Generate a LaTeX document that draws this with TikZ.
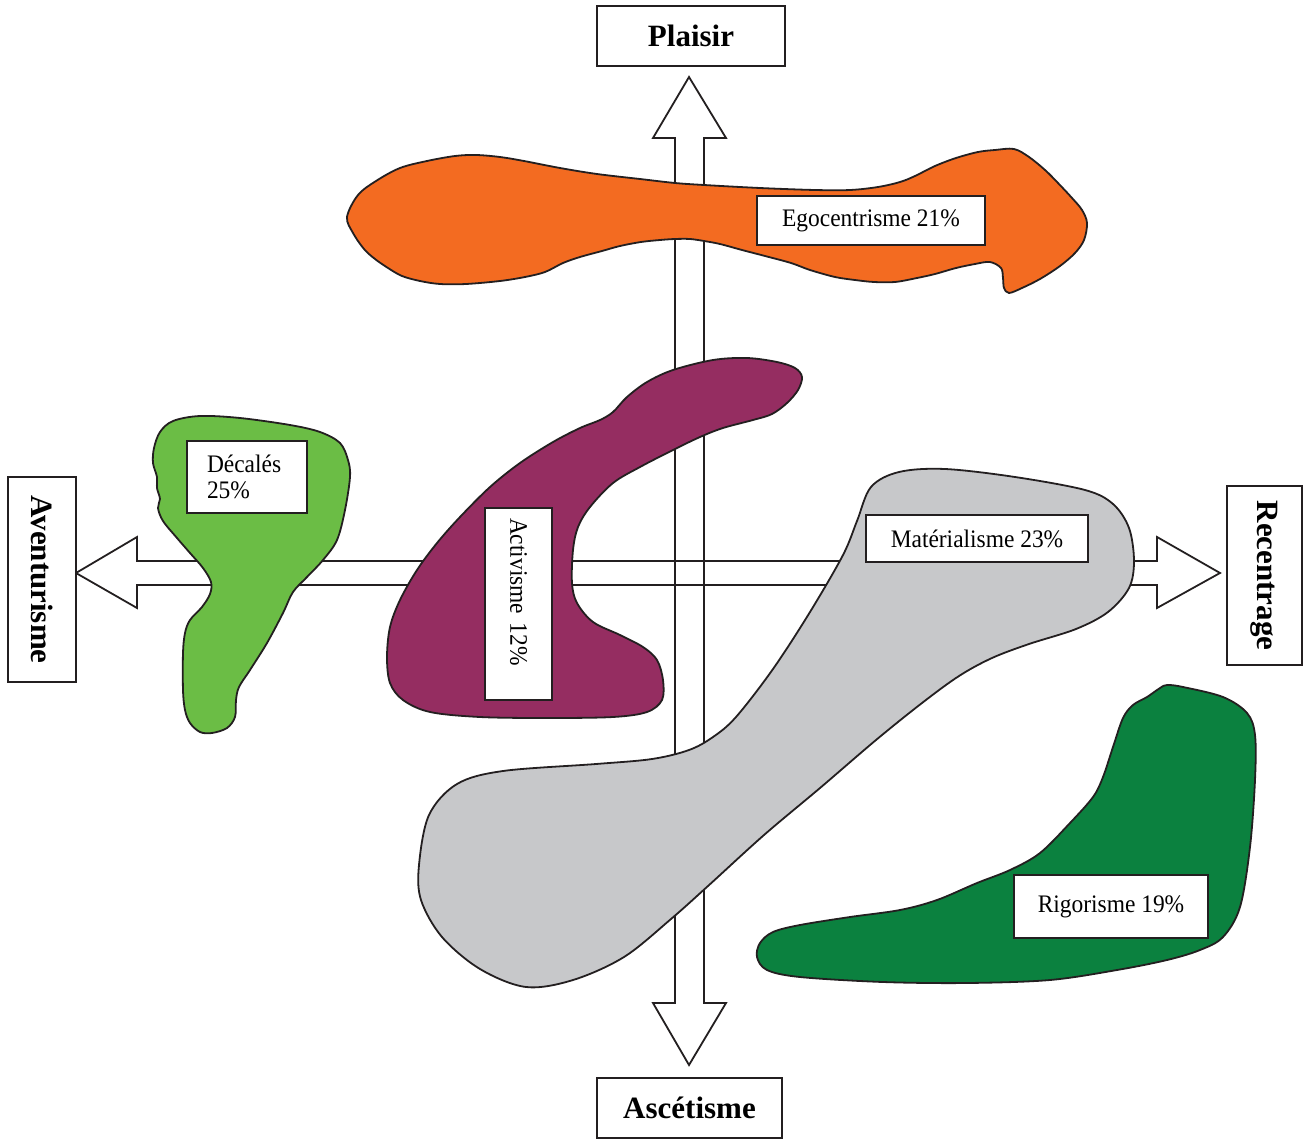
\documentclass[tikz,border=0pt]{standalone}
\usepackage{fontspec}
\setmainfont{Liberation Serif}
\newfontfamily\tagfont[FakeStretch=0.93]{Liberation Serif}
\definecolor{egoorange}{HTML}{F36B21}
\definecolor{decgreen}{HTML}{6BBD45}
\definecolor{actpurple}{HTML}{952D61}
\definecolor{matgray}{HTML}{C7C8CA}
\definecolor{riggreen}{HTML}{0B813F}
\definecolor{ink}{HTML}{231F20}
\begin{document}
\begin{tikzpicture}[x=1pt,y=-1pt,
  outline/.style={draw=ink, line width=1.8pt, line join=round},
  axisbox/.style={draw=ink, line width=1.8pt, fill=white, inner sep=0pt,
    font=\fontsize{31}{37}\selectfont\bfseries},
  tagbox/.style={draw=ink, line width=1.8pt, fill=white, inner sep=0pt,
    font=\tagfont\fontsize{25.2}{27}\selectfont},
]
\useasboundingbox (0,0) rectangle (1303,1140);

% double block arrows of the two axes
\coordinate (vtop) at (689,77);
\coordinate (vbot) at (689,1065);
\coordinate (hleft) at (76,573);
\coordinate (hright) at (1220,573);
\def\varrow{(vtop) -- (726,138) -- (704,138) -- (704,1003) -- (726,1003) -- (vbot)
  -- (653,1003) -- (675,1003) -- (675,138) -- (653,138) -- cycle}
\def\harrow{(hleft) -- (137,537) -- (137,561) -- (1157,561) -- (1157,537) -- (hright)
  -- (1157,608) -- (1157,585) -- (137,585) -- (137,608) -- cycle}
\fill[white] \varrow;
\fill[white] \harrow;
\draw[ink, line width=1.8pt, line join=miter] \varrow;
\draw[ink, line width=1.8pt, line join=miter] \harrow;

% Egocentrisme
\filldraw[outline, fill=egoorange] plot[smooth cycle, tension=0.55] coordinates {
 (347,217) (358,195) (376,181) (400,168) (427,161) (455,156) (476,155) (500,157)
 (524,161) (560,168) (597,174) (640,179) (675,183) (704,185) (760,188) (815,190)
 (850,190) (878,187) (900,182) (915,176) (935,166) (956,158) (978,152) (995,150)
 (1014,149) (1029,157) (1045,170) (1058,183) (1072,198) (1082,210) (1087,223)
 (1084,240) (1075,253) (1060,266) (1040,279) (1022,288) (1009,293) (1004,288)
 (1003,278) (1001,268) (990,262) (975,264) (956,268) (935,274) (917,278) (895,282)
 (874,282) (855,280) (835,277) (810,270) (791,263) (765,256) (742,250) (720,244)
 (704,241) (690,239) (675,239) (660,240) (641,242) (620,246) (602,251) (580,257)
 (563,263) (545,272) (525,277) (500,281) (466,284) (440,284) (420,281) (402,276)
 (388,268) (375,259) (364,249) (353,233)};

% Decales
\filldraw[outline, fill=decgreen] plot[smooth cycle, tension=0.55] coordinates {
 (154,448) (160,432) (173,421) (200,416) (240,418) (290,425) (320,432) (340,443)
 (348,460) (350,477) (345,510) (337,540) (323,560) (307,577) (293,592) (283,613)
 (267,643) (250,670) (239,687) (236,700) (235,717) (227,728) (212,733) (200,732)
 (190,723) (185,710) (183,690) (183,653) (185,633) (190,620) (202,607) (210,594)
 (211,582) (203,568) (190,553) (177,538) (163,521) (158,508) (160,499) (157,488)
 (157,477) (153,463)};

% Activisme
\filldraw[outline, fill=actpurple] plot[smooth cycle, tension=0.55] coordinates {
 (387,657) (390,683) (403,700) (430,712) (480,717) (547,718) (613,717) (647,712)
 (662,700) (663,680) (657,660) (643,647) (620,635) (593,622) (577,603) (572,583)
 (573,550) (578,527) (590,507) (613,483) (640,467) (673,450) (700,437) (723,428)
 (753,420) (772,414) (787,403) (798,390) (802,377) (795,368) (777,362) (747,358)
 (713,360) (673,370) (647,382) (627,397) (613,412) (600,420) (580,428) (553,442)
 (520,463) (490,487) (460,517) (437,543) (417,570) (400,600) (390,627)};

% Materialisme
\filldraw[outline, fill=matgray] plot[smooth cycle, tension=0.55] coordinates {
 (871,487) (899,472) (945,469) (1015,477) (1085,490) (1113,504) (1129,528)
 (1134,561) (1129,588) (1108,612) (1076,629) (1029,644) (992,658) (959,676)
 (922,703) (876,740) (820,788) (764,835) (708,886) (671,919) (624,957) (573,980)
 (526,987) (480,969) (442,937) (421,900) (419,865) (429,815) (457,784) (503,771)
 (596,764) (652,759) (689,750) (713,737) (736,717) (773,669) (810,612) (843,555)
 (857,521)};

% Rigorisme
\filldraw[outline, fill=riggreen] plot[smooth cycle, tension=0.55] coordinates {
 (1167,685) (1183,687) (1223,697) (1247,713) (1255,735) (1255,780) (1250,847)
 (1240,907) (1223,937) (1200,950) (1167,960) (1117,970) (1050,980) (967,983)
 (883,982) (800,977) (767,970) (757,957) (760,943) (773,932) (800,925) (850,917)
 (900,910) (937,900) (977,883) (1010,870) (1040,853) (1070,823) (1093,797)
 (1103,777) (1113,747) (1123,718) (1133,705) (1147,697) (1160,688)};

% axis labels
\node[axisbox, minimum width=188, minimum height=60] (plaisir) at (691,36) {Plaisir};
\node[axisbox, minimum width=185, minimum height=60] (ascetisme) at (689.5,1108) {Ascétisme};
\node[axisbox, rotate=-90, minimum width=205, minimum height=68] (aventurisme) at (42,579.5) {Aventurisme};
\node[axisbox, rotate=-90, minimum width=179, minimum height=75] (recentrage) at (1264.5,575.5) {Recentrage};

% group labels
\node[tagbox, minimum width=228, minimum height=49] (ego) at (871,220.5) {Egocentrisme 21\%};
\node[tagbox, minimum width=120, minimum height=72, text width=80, inner xsep=20, align=left,
  font=\tagfont\fontsize{25.2}{26.5}\selectfont] (dec) at (247,477) {Décalés\\25\%};
\node[tagbox, rotate=-90, minimum width=192, minimum height=67, inner xsep=10, text width=172,
  align=left] (act) at (518.5,604) {Activisme 12\%};
\node[tagbox, minimum width=222, minimum height=47] (mat) at (977,538.5) {Matérialisme 23\%};
\node[tagbox, minimum width=194, minimum height=63] (rig) at (1111,906.5) {Rigorisme 19\%};
\end{tikzpicture}
\end{document}
